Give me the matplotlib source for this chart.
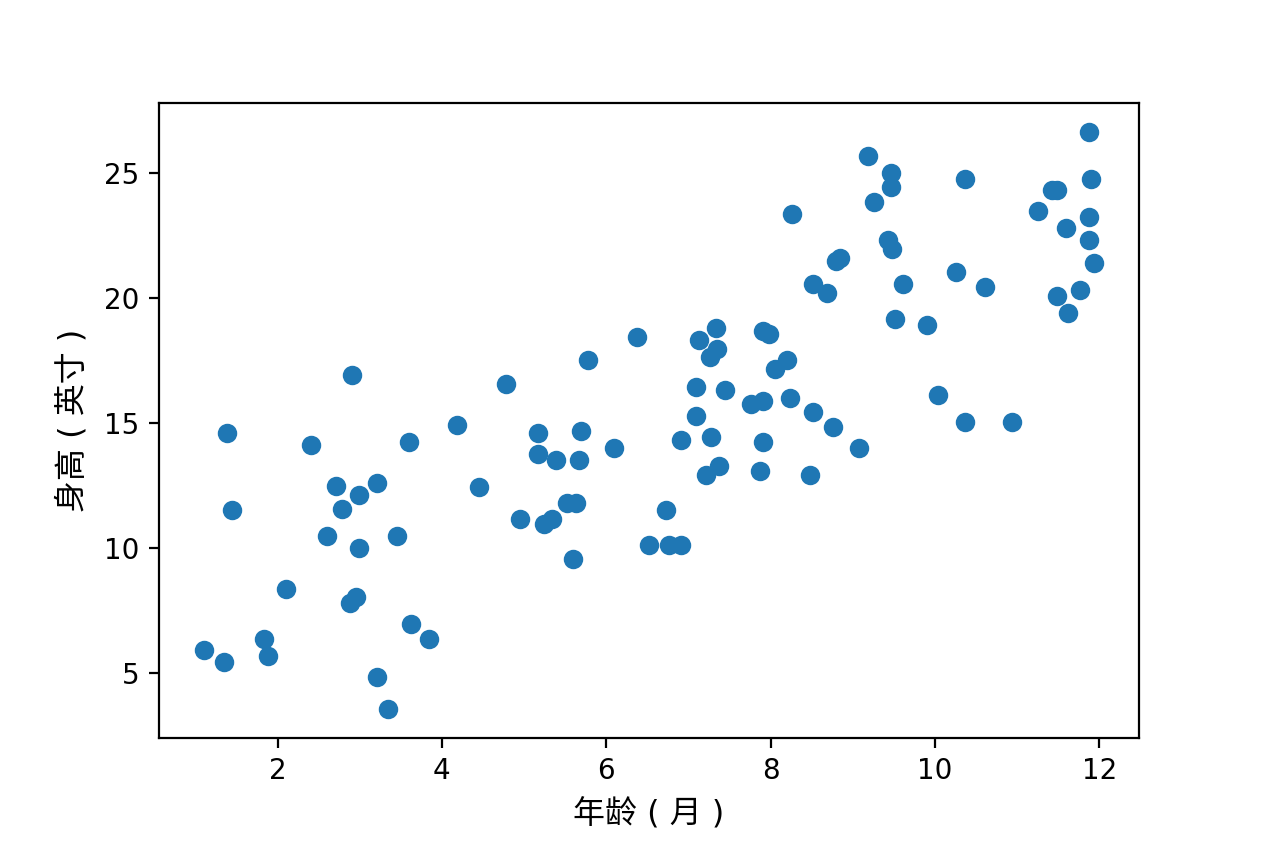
import matplotlib
matplotlib.use("Agg")
import matplotlib.pyplot as plt

# DejaVu for digits and brackets, Noto CJK for the Chinese glyphs
plt.rcParams["font.family"] = ["DejaVu Sans", "Noto Sans CJK SC"]

# 年龄（月）
age_months = [
    1.10, 1.35, 1.39, 1.45, 1.84, 1.88, 2.10, 2.41, 2.60, 2.71,
    2.78, 2.91, 2.88, 2.95, 2.99, 2.99, 3.21, 3.21, 3.34, 3.45,
    3.60, 3.62, 3.84, 4.19, 4.45, 4.78, 4.95, 5.17, 5.17, 5.24,
    5.34, 5.39, 5.52, 5.63, 5.59, 5.67, 5.69, 5.78, 6.09, 6.37,
    6.52, 6.73, 6.77, 6.91, 6.91, 7.09, 7.09, 7.13, 7.21, 7.26,
    7.27, 7.34, 7.35, 7.37, 7.44, 7.76, 7.87, 7.91, 7.91, 7.91,
    7.98, 8.05, 8.20, 8.24, 8.26, 8.48, 8.52, 8.52, 8.69, 8.76,
    8.80, 8.85, 9.08, 9.19, 9.26, 9.43, 9.48, 9.47, 9.47, 9.52,
    9.61, 9.90, 10.04, 10.26, 10.37, 10.37, 10.61, 10.94, 11.26, 11.42,
    11.48, 11.48, 11.59, 11.62, 11.76, 11.87, 11.87, 11.87, 11.90, 11.94,
]
# 身高（英寸）
height_inches = [
    5.92, 5.44, 14.60, 11.52, 6.36, 5.68, 8.36, 14.12, 10.48, 12.48,
    11.56, 16.92, 7.80, 8.04, 12.12, 10.00, 12.60, 4.84, 3.56, 10.48,
    14.24, 6.96, 6.36, 14.92, 12.44, 16.56, 11.16, 14.60, 13.76, 10.96,
    11.16, 13.52, 11.80, 11.80, 9.56, 13.52, 14.68, 17.52, 14.00, 18.44,
    10.12, 11.52, 10.12, 10.12, 14.32, 16.44, 15.28, 18.32, 12.92, 17.64,
    14.44, 18.80, 17.96, 13.28, 16.32, 15.76, 13.08, 15.88, 14.24, 18.68,
    18.56, 17.16, 17.52, 16.00, 23.36, 12.92, 20.56, 15.44, 20.20, 14.84,
    21.48, 21.60, 14.00, 25.68, 23.84, 22.32, 21.96, 25.00, 24.44, 19.16,
    20.56, 18.92, 16.12, 21.04, 24.76, 15.04, 20.44, 15.04, 23.48, 24.32,
    24.32, 20.08, 22.80, 19.40, 20.32, 26.64, 23.24, 22.32, 24.76, 21.40,
]

fig, ax = plt.subplots(figsize=(6.32, 4.215), dpi=200)
fig.subplots_adjust(left=0.1258, right=0.901, top=0.878, bottom=0.1246)

ax.scatter(age_months, height_inches)
ax.set_xlabel("年龄 ( 月 )", fontsize=11.5, labelpad=5)
ax.set_ylabel("身高 ( 英寸 )", fontsize=11.5, labelpad=5.5)

fig.savefig("out.png", dpi=200)
